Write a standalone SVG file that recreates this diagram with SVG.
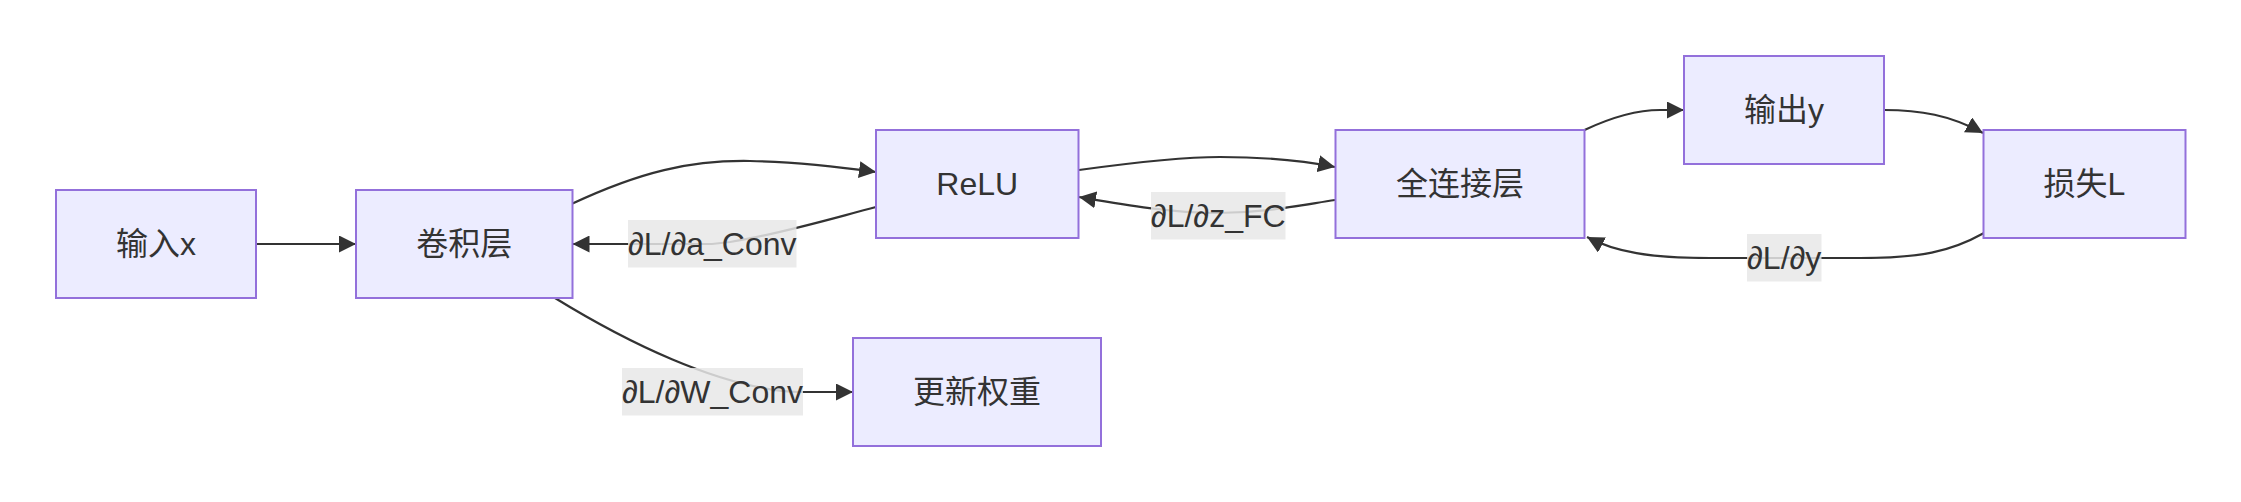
<svg xmlns="http://www.w3.org/2000/svg" width="2241" height="502" viewBox="0 0 2241 502">
<style>
.node rect{fill:#ECECFF;stroke:#9370DB;stroke-width:2}
.node text,.lbl text{font-family:"Liberation Sans","Noto Sans CJK SC",sans-serif;font-size:32px;fill:#333333;text-anchor:middle;dominant-baseline:central}
.edge{fill:none;stroke:#333333;stroke-width:2.2;marker-end:url(#arr)}
.lbl rect{fill:#e8e8e8;opacity:0.85}
</style>
<defs>
<marker id="arr" viewBox="0 0 10 10" refX="10" refY="5" markerUnits="userSpaceOnUse" markerWidth="17" markerHeight="17" orient="auto">
<path d="M0,0 L10,5 L0,10 z" fill="#333333"/>
</marker>
</defs>
<rect width="2241" height="502" fill="#ffffff"/>
<g id="connectors">
<path class="edge" d="M256,244 L356,244"/>
<path class="edge" d="M572.5,203.5 C640,172 690,160 750,161 C800,162 840,167 876,172"/>
<path class="edge" d="M876,207 C830,219 780,234 730,242 L712,244 L572.5,244"/>
<path class="edge" d="M555,298 C620,338 720,390 800,392 L853,392"/>
<path class="edge" d="M1079,170 C1130,163 1180,157 1220,157 C1270,157 1305,161 1335,167"/>
<path class="edge" d="M1335,200 C1290,207 1260,213 1218,213 C1170,213 1120,204 1079,197"/>
<path class="edge" d="M1584.5,130 C1610,118 1635,110 1660,110 L1684,110"/>
<path class="edge" d="M1884,110 C1920,110 1950,115 1983,133"/>
<path class="edge" d="M1984,233 C1950,252 1920,258 1860,258 L1710,258 C1650,258 1615,252 1587,237"/>
</g>
<g id="edge-labels">
<g class="lbl"><rect x="628" y="220" width="168.5" height="47.5"/><text x="712.2" y="244">∂L/∂a_Conv</text></g>
<g class="lbl"><rect x="622" y="368" width="181" height="47.5"/><text x="712.5" y="392">∂L/∂W_Conv</text></g>
<g class="lbl"><rect x="1151" y="192" width="134.5" height="47.5"/><text x="1218.2" y="216">∂L/∂z_FC</text></g>
<g class="lbl"><rect x="1747" y="234" width="74.5" height="47.5"/><text x="1784.2" y="258">∂L/∂y</text></g>
</g>
<g id="node-input" class="node"><rect x="56" y="190" width="200" height="108"/><text x="156" y="244">输入x</text></g>
<g id="node-conv" class="node"><rect x="356" y="190" width="216.5" height="108"/><text x="464.2" y="244">卷积层</text></g>
<g id="node-relu" class="node"><rect x="876" y="130" width="202.5" height="108"/><text x="977.2" y="184">ReLU</text></g>
<g id="node-fc" class="node"><rect x="1335.5" y="130" width="249" height="108"/><text x="1460" y="184">全连接层</text></g>
<g id="node-output" class="node"><rect x="1684" y="56" width="200" height="108"/><text x="1784" y="110">输出y</text></g>
<g id="node-loss" class="node"><rect x="1983.5" y="130" width="202" height="108"/><text x="2084.5" y="184">损失L</text></g>
<g id="node-update" class="node"><rect x="853" y="338" width="248" height="108"/><text x="977" y="392">更新权重</text></g>
</svg>
